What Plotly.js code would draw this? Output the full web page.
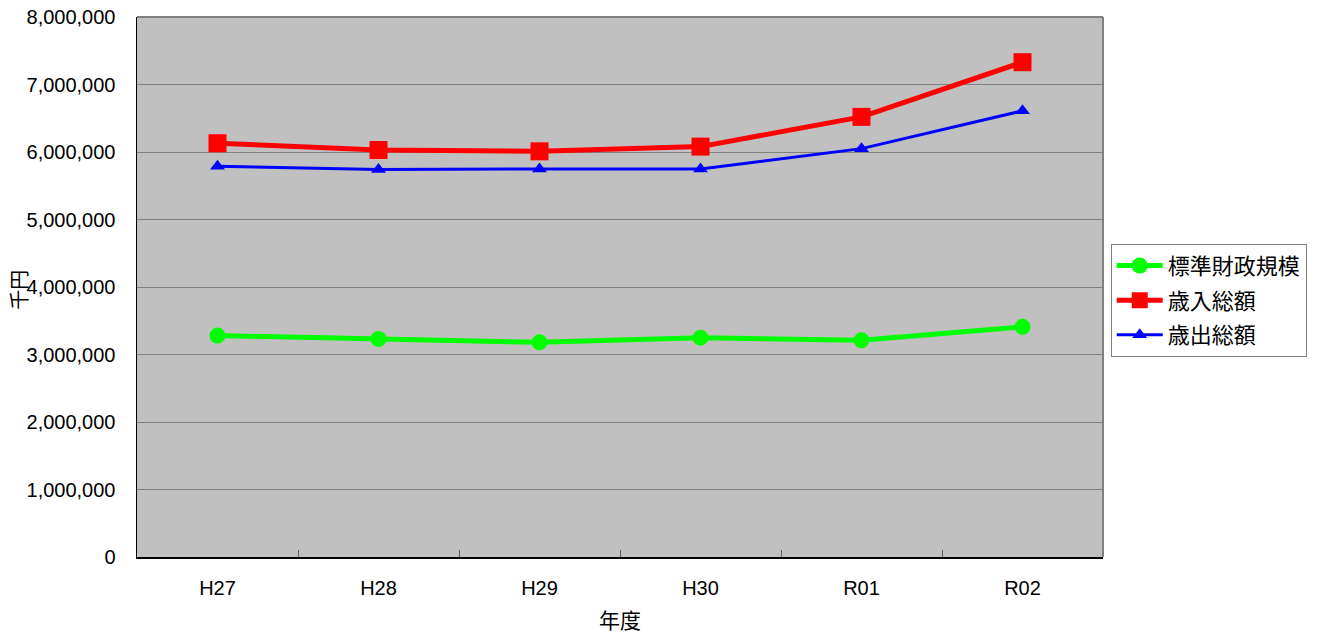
<!DOCTYPE html>
<html><head><meta charset="utf-8">
<script src="https://cdn.plot.ly/plotly-3.0.1.min.js"></script>
<style>body{margin:0;background:#fff}#c{width:1321px;height:637px}</style>
</head><body><div id="c"></div>
<script>
const years = ["H27","H28","H29","H30","R01","R02"];
const standardScale = [3280000,3230000,3180000,3250000,3210000,3410000];
const revenueTotal = [6130000,6030000,6010000,6080000,6520000,7330000];
const expenditureTotal = [5790000,5740000,5750000,5750000,6050000,6610000];
const seriesNames = ["標準財政規模","歳入総額","歳出総額"];
const yTicks = [0,1000000,2000000,3000000,4000000,5000000,6000000,7000000,8000000];

const jp = '"Liberation Sans", Arial, "Noto Sans CJK JP", sans-serif';
const traces = [
  {x: years, y: standardScale, name: seriesNames[0], legendgroup:'a', type:'scatter', mode:'lines+markers',
   line:{color:'#00FF00', width:5}, marker:{symbol:'circle', size:16, color:'#00FF00'}},
  {x: years, y: revenueTotal, name: seriesNames[1], legendgroup:'b', type:'scatter', mode:'lines+markers',
   line:{color:'#FF0000', width:5}, marker:{symbol:'square', size:18, color:'#FF0000'}},
  {x: years, y: expenditureTotal, name: seriesNames[2], legendgroup:'c', type:'scatter', mode:'lines+markers',
   line:{color:'#0000FF', width:3}, marker:{symbol:'triangle-up', size:13, color:'#0000FF'}}
];
const layout = {
  width:1321, height:637,
  margin:{l:137, r:218, t:17, b:80},
  paper_bgcolor:'#FFFFFF', plot_bgcolor:'#C0C0C0',
  font:{family:jp, size:20, color:'#000'},
  showlegend:true,
  legend:{x:1.008, y:0.58, xanchor:'left', yanchor:'top', bgcolor:'#FFFFFF',
    bordercolor:'#808080', borderwidth:1, font:{family:jp, size:22, color:'#000'},
    itemwidth:46, tracegroupgap:3},
  xaxis:{type:'category', range:[-0.5,5.5], showgrid:false, showline:true, linecolor:'#000', linewidth:1.5,
    ticks:'inside', tickson:'boundaries', ticklen:7, tickcolor:'#606060', tickwidth:1,
    tickfont:{family:jp, size:20}, mirror:false, zeroline:false, ticklabelstandoff:12,
    title:{text:'年度', font:{family:jp, size:21}, standoff:16}},
  yaxis:{range:[0,8000000], tickvals:yTicks, tickformat:',d', showgrid:true, gridcolor:'#808080', gridwidth:1,
    showline:true, linecolor:'#000', linewidth:1.5, ticks:'',
    tickfont:{family:jp, size:20}, zeroline:false, ticklabelstandoff:16},
  shapes:[
    {type:'line', xref:'paper', yref:'paper', x0:0, x1:1, y0:1, y1:1, line:{color:'#808080', width:2}},
    {type:'line', xref:'paper', yref:'paper', x0:1, x1:1, y0:0, y1:1, line:{color:'#808080', width:2}}
  ],
  annotations:[
    {text:'千円', xref:'paper', yref:'paper', x:-0.121, y:0.495, xanchor:'center', yanchor:'middle',
     showarrow:false, textangle:-90, font:{family:jp, size:20, color:'#000'}}
  ]
};
Plotly.newPlot('c', traces, layout, {displayModeBar:false, staticPlot:true});
</script></body></html>
